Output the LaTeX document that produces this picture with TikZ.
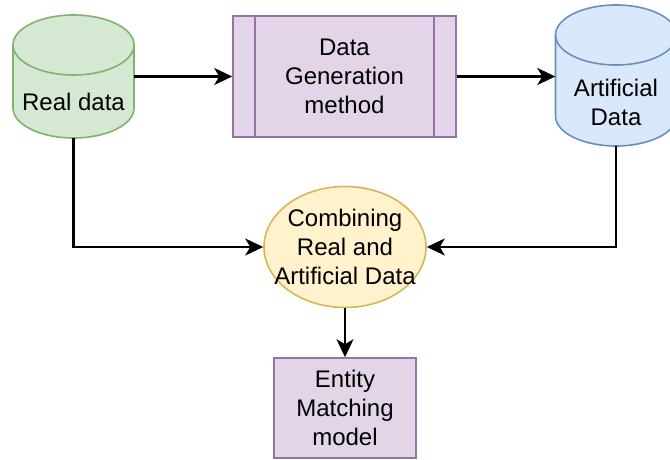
\documentclass[tikz,border=0pt]{standalone}
\usepackage{fontspec}
\setmainfont{Liberation Sans}
\usetikzlibrary{arrows.meta,shapes.geometric}

\definecolor{greenfill}{HTML}{D5E8D4}
\definecolor{greenline}{HTML}{82B366}
\definecolor{purplefill}{HTML}{E1D5E7}
\definecolor{purpleline}{HTML}{9673A6}
\definecolor{bluefill}{HTML}{DAE8FC}
\definecolor{blueline}{HTML}{6C8EBF}
\definecolor{yellowfill}{HTML}{FFF2CC}
\definecolor{yellowline}{HTML}{D6B656}

\tikzset{
  x=1pt, y=1pt,
  label text/.style={align=center, inner sep=0pt,
    font=\fontsize{24}{28.8}\selectfont},
  anchorbox/.style={rectangle, inner sep=0pt},
  shapeline/.style={line width=1.6pt},
  connector/.style={line width=2.2pt, -{Stealth[length=18pt,width=17pt,inset=5pt]}},
}

% cylinder: #1 fill, #2 stroke, #3 left x, #4 right x, #5 top y, #6 bottom y
\newcommand{\drumshape}[6]{%
  \pgfmathsetmacro{\drx}{(#4-#3)/2}%
  \pgfmathsetmacro{\dtop}{#5-30}%
  \pgfmathsetmacro{\dbot}{#6+30}%
  \draw[shapeline, fill=#1, draw=#2]
    (#3,\dtop) -- (#3,\dbot)
    arc[start angle=180, end angle=360, x radius=\drx, y radius=30]
    -- (#4,\dtop)
    arc[start angle=0, end angle=180, x radius=\drx, y radius=30] -- cycle;
  \draw[shapeline, draw=#2] (#3,\dtop)
    arc[start angle=180, end angle=360, x radius=\drx, y radius=30];
}

\begin{document}
\begin{tikzpicture}
\useasboundingbox (0,0) rectangle (670,460);

% Real data cylinder
\drumshape{greenfill}{greenline}{13}{134}{445}{322}
\node[anchorbox, minimum width=121pt, minimum height=123pt] (real) at (73.5,383.5) {};
\node[label text] (realtxt) at (73.5,358) {Real data};

% Artificial data cylinder
\drumshape{bluefill}{blueline}{555.5}{676.5}{455}{314}
\node[anchorbox, minimum width=121pt, minimum height=141pt] (art) at (616,384.5) {};
\node[label text] (arttxt) at (616,357.5) {Artificial\\Data};

% Data generation process box
\node[rectangle, shapeline, fill=purplefill, draw=purpleline,
      minimum width=223pt, minimum height=121pt, inner sep=0pt] (gen) at (344.5,383.5) {};
\draw[shapeline, draw=purpleline] ([xshift=23pt]gen.north west) -- ([xshift=23pt]gen.south west);
\draw[shapeline, draw=purpleline] ([xshift=-23pt]gen.north east) -- ([xshift=-23pt]gen.south east);
\node[label text] (gentxt) at (gen.center) {Data\\Generation\\method};

% Combining ellipse
\node[ellipse, shapeline, fill=yellowfill, draw=yellowline,
      minimum width=162pt, minimum height=121pt, inner sep=0pt] (comb) at (345,213) {};
\node[label text] (combtxt) at (comb.center) {Combining\\Real and\\Artificial Data};

% Entity matching model
\node[rectangle, shapeline, fill=purplefill, draw=purpleline,
      minimum width=142pt, minimum height=100pt, inner sep=0pt] (em) at (345,52) {};
\node[label text] (emtxt) at (em.center) {Entity\\Matching\\model};

% Connectors
\draw[connector] (real.east) -- (gen.west);
\draw[connector] (gen.east) -- (gen.east -| art.west);
\draw[connector] (real.south) |- (comb.west);
\draw[connector] (art.south) |- (comb.east);
\draw[connector] (comb.south) -- (em.north);
\end{tikzpicture}
\end{document}
